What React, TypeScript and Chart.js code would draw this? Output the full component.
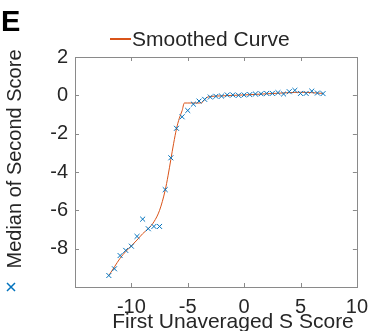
import React, { useEffect, useRef } from "react";
import { Chart, registerables } from "chart.js";

Chart.register(...registerables);

const FONT = "'Liberation Sans', Arial, Helvetica, sans-serif";
const TEXT_COLOR = "#262626";
const BLUE = "#0072BD";
const ORANGE = "#D95319";

const xTicks = [-10, -5, 0, 5, 10];
const yTicks = [2, 0, -2, -4, -6, -8];

const scoreX = [
  -12, -11.5, -11, -10.5, -10, -9.5, -9, -8.5, -8, -7.5, -7, -6.5, -6, -5.5, -5,
  -4.5, -4, -3.5, -3, -2.5, -2, -1.5, -1, -0.5, 0, 0.5, 1, 1.5, 2, 2.5, 3, 3.5,
  4, 4.5, 5, 5.5, 6, 6.5, 7,
];
const medianY = [
  -9.4, -9.05, -8.36, -8.09, -7.87, -7.36, -6.46, -6.96, -6.84, -6.84, -4.92,
  -3.26, -1.72, -1.12, -0.79, -0.46, -0.3, -0.21, -0.09, -0.05, -0.04, 0.02,
  0.02, 0.0, 0.02, 0.04, 0.07, 0.08, 0.1, 0.1, 0.14, 0.07, 0.19, 0.26, 0.1, 0.1,
  0.22, 0.12, 0.09,
];

const curveX = [
  -12, -11.5, -11, -10.5, -10, -9.5, -9, -8.5, -8, -7.5, -7, -6.75, -6.5, -6.25,
  -6, -5.75, -5.5, -5.3, -5, -4.5, -4, -3.7, -3.4, -3, -2, -1, 0, 1, 2, 3, 4, 5,
  6, 7,
];
const curveY = [
  -9.4, -8.95, -8.5, -8.15, -7.85, -7.55, -7.22, -6.95, -6.6, -6.0, -4.95, -4.2,
  -3.35, -2.5, -1.75, -1.2, -0.8, -0.4, -0.4, -0.4, -0.4, -0.36, -0.15, -0.06,
  -0.03, 0.0, 0.02, 0.05, 0.08, 0.11, 0.14, 0.16, 0.14, 0.1,
];

const decorPlugin = {
  id: "decor",
  afterDraw(chart: any) {
    const ctx = chart.ctx;
    const { left, right, top, bottom } = chart.chartArea;
    const xs = chart.scales.x;
    const ys = chart.scales.y;
    ctx.save();
    // box
    ctx.strokeStyle = "#8a8a8a";
    ctx.lineWidth = 1;
    ctx.strokeRect(Math.round(left) + 0.5, Math.round(top) + 0.5, Math.round(right - left), Math.round(bottom - top));
    // inward ticks
    const tl = 4;
    ctx.beginPath();
    xTicks.forEach((v) => {
      const px = Math.round(xs.getPixelForValue(v)) + 0.5;
      ctx.moveTo(px, bottom);
      ctx.lineTo(px, bottom - tl);
      ctx.moveTo(px, top);
      ctx.lineTo(px, top + tl);
    });
    yTicks.forEach((v) => {
      const py = Math.round(ys.getPixelForValue(v)) + 0.5;
      ctx.moveTo(left, py);
      ctx.lineTo(left + tl, py);
      ctx.moveTo(right, py);
      ctx.lineTo(right - tl, py);
    });
    ctx.stroke();

    // panel letter
    ctx.fillStyle = "#000";
    ctx.font = `bold 29px ${FONT}`;
    ctx.textAlign = "left";
    ctx.textBaseline = "alphabetic";
    ctx.fillText("E", 1, 31);

    // legend
    ctx.strokeStyle = ORANGE;
    ctx.lineWidth = 2;
    ctx.beginPath();
    ctx.moveTo(110, 39);
    ctx.lineTo(131, 39);
    ctx.stroke();
    ctx.fillStyle = TEXT_COLOR;
    ctx.font = `21px ${FONT}`;
    ctx.fillText("Smoothed Curve", 132, 46);

    // x title
    ctx.textAlign = "center";
    ctx.fillText("First Unaveraged S Score", 233, 328);

    // y title
    ctx.save();
    ctx.font = `20px ${FONT}`;
    ctx.translate(21, 159);
    ctx.rotate(-Math.PI / 2);
    ctx.textAlign = "center";
    ctx.fillText("Median of Second Score", 0, 0);
    ctx.restore();

    // y title marker
    ctx.strokeStyle = BLUE;
    ctx.lineWidth = 1.5;
    ctx.beginPath();
    const cx = 11, cy = 287, r = 4;
    ctx.moveTo(cx - r, cy - r);
    ctx.lineTo(cx + r, cy + r);
    ctx.moveTo(cx - r, cy + r);
    ctx.lineTo(cx + r, cy - r);
    ctx.stroke();
    ctx.restore();
  },
};

export default function App() {
  const ref = useRef<HTMLCanvasElement>(null);
  useEffect(() => {
    document.body.style.margin = "0";
    const chart = new Chart(ref.current as HTMLCanvasElement, {
      type: "scatter",
      data: {
        datasets: [
          {
            label: "Median of Second Score",
            data: scoreX.map((x, i) => ({ x, y: medianY[i] })),
            pointStyle: "crossRot",
            pointRadius: 3.5,
            borderColor: BLUE,
            backgroundColor: BLUE,
            borderWidth: 1,
            showLine: false,
            order: 0,
          },
          {
            label: "Smoothed Curve",
            data: curveX.map((x, i) => ({ x, y: curveY[i] })),
            showLine: true,
            pointRadius: 0,
            borderColor: ORANGE,
            borderWidth: 1,
            cubicInterpolationMode: "monotone",
            order: 1,
          },
        ],
      },
      options: {
        responsive: false,
        animation: false,
        devicePixelRatio: 1,
        layout: { padding: { top: 57, right: 8, left: 0, bottom: 0 } },
        plugins: { legend: { display: false }, tooltip: { enabled: false } },
        scales: {
          x: {
            type: "linear",
            min: -15,
            max: 10,
            afterBuildTicks: (s: any) => {
              s.ticks = xTicks.map((v) => ({ value: v }));
            },
            afterFit: (s: any) => {
              s.height = 44;
            },
            grid: { display: false, drawTicks: false },
            border: { display: false },
            ticks: {
              font: { family: FONT, size: 20 },
              color: TEXT_COLOR,
              padding: 8,
              maxRotation: 0,
              autoSkip: false,
            },
          },
          y: {
            type: "linear",
            min: -10,
            max: 2,
            afterBuildTicks: (s: any) => {
              s.ticks = yTicks.map((v) => ({ value: v }));
            },
            afterFit: (s: any) => {
              s.width = 75;
            },
            grid: { display: false, drawTicks: false },
            border: { display: false },
            ticks: {
              font: { family: FONT, size: 20 },
              color: TEXT_COLOR,
              padding: 7,
              autoSkip: false,
            },
          },
        },
      },
      plugins: [decorPlugin],
    });
    return () => chart.destroy();
  }, []);
  return (
    <div style={{ position: "absolute", left: 0, top: 0, width: 376, height: 331 }}>
      <canvas ref={ref} width={376} height={331} style={{ width: 376, height: 331 }} />
    </div>
  );
}
